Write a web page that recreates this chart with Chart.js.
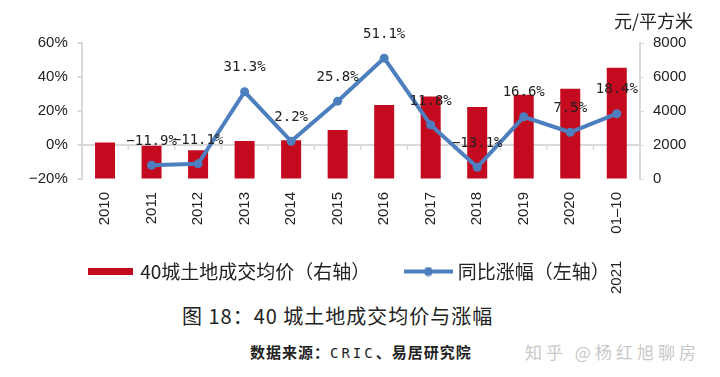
<!DOCTYPE html>
<html>
<head>
<meta charset="utf-8">
<script src="https://cdn.jsdelivr.net/npm/chart.js@4.4.1/dist/chart.umd.min.js"></script>
<style>
  html, body { margin:0; padding:0; background:#fff; }
  #wrap { position:relative; width:720px; height:377px; overflow:hidden; }
  #c { position:absolute; left:0; top:0; }
  .txt { position:absolute; white-space:nowrap; color:#222; font-family:"Noto Sans CJK SC", sans-serif; }
  #unit { right:27px; top:8px; font-size:18px; line-height:24px; }
  #title { left:182px; top:304px; font-size:20px; line-height:24px; letter-spacing:1px; }
  #src { left:250px; top:342px; font-size:15px; line-height:20px; font-weight:bold; letter-spacing:1px; }
  #src .mono { font-family:"DejaVu Sans Mono", monospace; font-weight:normal; font-size:14px; letter-spacing:3px; }
  #wm { left:525px; top:340px; font-size:17px; line-height:24px; color:#c8c8c8; letter-spacing:4px; }
</style>
</head>
<body>
<div id="wrap">
  <canvas id="c" width="720" height="300"></canvas>
  <div class="txt" id="unit">元/平方米</div>
  <div class="txt" id="title">图 18：40 城土地成交均价与涨幅</div>
  <div class="txt" id="src">数据来源：<span class="mono">CRIC</span>、易居研究院</div>
  <div class="txt" id="wm">知乎 @杨红旭聊房</div>
</div>
<script>
const RED = "#C30A1F";
const BLUE = "#4D7FBE";
const GRID = "#d9d9d9";
const TICK_FONT = '"Liberation Sans", Arial, sans-serif';

// categories ("year part": the part sits next to the axis, the year further down)
const years = ["2010","2011","2012","2013","2014","2015","2016","2017","2018","2019","2020","2021 01–10"];
// 40城土地成交均价 (元/平方米, right axis)
const avgPrice = [2140, 1950, 1690, 2230, 2280, 2880, 4350, 4850, 4230, 4950, 5310, 6550];
// 同比涨幅 (%, left axis)
const growth = [null, -11.9, -11.1, 31.3, 2.2, 25.8, 51.1, 11.8, -13.1, 16.6, 7.5, 18.4];

const leftTicks = { min:-20, max:60, step:20 };
const rightTicks = { min:0, max:8000, step:2000 };

// legend symbols
function barSymbol(){
  const c = document.createElement("canvas");
  c.width = 45; c.height = 7;
  const g = c.getContext("2d");
  g.fillStyle = RED; g.fillRect(0,0,45,7);
  return c;
}
function lineSymbol(){
  const c = document.createElement("canvas");
  c.width = 49; c.height = 10;
  const g = c.getContext("2d");
  g.strokeStyle = BLUE; g.lineWidth = 4;
  g.beginPath(); g.moveTo(0,5); g.lineTo(49,5); g.stroke();
  g.fillStyle = BLUE; g.beginPath(); g.arc(24.5,5,4.5,0,Math.PI*2); g.fill();
  return c;
}

const extras = {
  id:"extras",
  // little ticks on the zero line between categories
  beforeDatasetsDraw(chart){
    const {ctx} = chart;
    const x = chart.scales.x, y = chart.scales.y;
    const y0 = y.getPixelForValue(0);
    ctx.save();
    ctx.strokeStyle = GRID; ctx.lineWidth = 1.5;
    for (let i = 0; i <= years.length; i++){
      const px = x.getPixelForValue(i - 0.5);
      ctx.beginPath(); ctx.moveTo(px, y0); ctx.lineTo(px, y0 + 5); ctx.stroke();
    }
    ctx.restore();
  },
  // value labels above the growth points
  afterDatasetsDraw(chart){
    const {ctx} = chart;
    const meta = chart.getDatasetMeta(1);
    ctx.save();
    ctx.font = '14px "DejaVu Sans Mono", monospace';
    ctx.fillStyle = "#222";
    ctx.textAlign = "center";
    ctx.textBaseline = "middle";
    meta.data.forEach((pt, i) => {
      const v = growth[i];
      if (v == null) return;
      const s = (v < 0 ? "−" : "") + Math.abs(v).toFixed(1) + "%";
      ctx.fillText(s, pt.x, pt.y - 24);
    });
    ctx.restore();
  },
  // year part of split category labels, below the axis box
  afterDraw(chart){
    const {ctx} = chart;
    const x = chart.scales.x;
    ctx.save();
    ctx.font = "15px " + TICK_FONT;
    ctx.fillStyle = "#222";
    ctx.textAlign = "left";
    ctx.textBaseline = "middle";
    years.forEach((lab, i) => {
      const parts = lab.split(" ");
      if (parts.length < 2) return;
      ctx.save();
      ctx.translate(x.getPixelForTick(i), 294);
      ctx.rotate(-Math.PI / 2);
      ctx.fillText(parts[0], 0, 0);
      ctx.restore();
    });
    ctx.restore();
  }
};

new Chart(document.getElementById("c"), {
  data: {
    labels: years,
    datasets: [
      {
        type:"bar",
        label:"40城土地成交均价（右轴）　  ",
        data: avgPrice,
        yAxisID:"y1",
        backgroundColor: RED,
        barPercentage: 0.43,
        categoryPercentage: 1,
        order: 2
      },
      {
        type:"line",
        label:"同比涨幅（左轴）　 ",
        data: growth,
        yAxisID:"y",
        borderColor: BLUE,
        backgroundColor: BLUE,
        borderWidth: 4,
        pointRadius: 4.5,
        pointBorderWidth: 0,
        tension: 0,
        order: 1
      }
    ]
  },
  options: {
    responsive:false,
    animation:false,
    layout:{ padding:{ left:19, right:24.6, top:43, bottom:9 } },
    plugins:{
      tooltip:{ enabled:false },
      legend:{
        position:"bottom",
        labels:{
          usePointStyle:true,
          pointStyleWidth:40,
          boxHeight:16,
          padding:20,
          color:"#222",
          font:{ family:'"Noto Sans CJK SC", sans-serif', size:19 },
          generateLabels:(chart) => chart.data.datasets.map((d, i) => ({
            text: d.label,
            pointStyle: i === 0 ? barSymbol() : lineSymbol(),
            fillStyle: d.backgroundColor,
            strokeStyle: "transparent",
            lineWidth: 0,
            fontColor: "#222",
            datasetIndex: i
          }))
        }
      }
    },
    scales:{
      x:{
        offset:true,
        border:{ display:false },
        grid:{ display:false, drawTicks:false },
        ticks:{
          autoSkip:false, minRotation:90, maxRotation:90, padding:13,
          color:"#222", font:{ family:TICK_FONT, size:15 },
          callback:function(v){ const p = years[v].split(" "); return p[p.length - 1]; }
        },
        afterFit:(s) => { s.height = 63; }
      },
      y:{
        position:"left",
        min:leftTicks.min, max:leftTicks.max,
        border:{ display:true, color:GRID, width:2 },
        grid:{
          color:(c) => c.tick && c.tick.value === 0 ? GRID : "transparent",
          lineWidth:2, tickColor:GRID, tickLength:4
        },
        ticks:{
          stepSize:leftTicks.step, padding:10, color:"#222",
          font:{ family:TICK_FONT, size:15 },
          callback:(v) => (v < 0 ? "−" : "") + Math.abs(v) + "%"
        }
      },
      y1:{
        position:"right",
        min:rightTicks.min, max:rightTicks.max,
        border:{ display:true, color:GRID, width:2 },
        grid:{ drawOnChartArea:false, tickColor:GRID, tickLength:4 },
        ticks:{
          stepSize:rightTicks.step, padding:9, color:"#222",
          font:{ family:TICK_FONT, size:15 },
          callback:(v) => String(v)
        }
      }
    }
  },
  plugins:[extras]
});
</script>
</body>
</html>
